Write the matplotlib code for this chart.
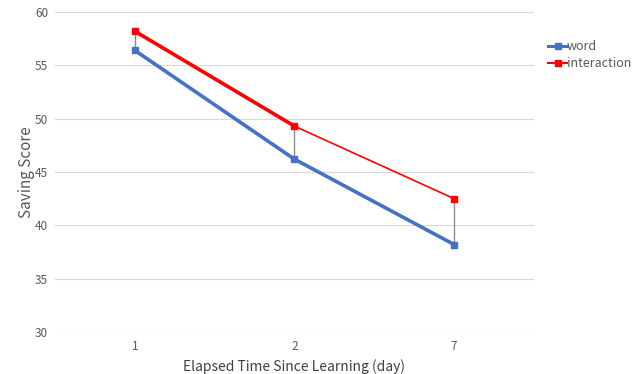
import matplotlib.pyplot as plt
from matplotlib.lines import Line2D

plt.rcParams['font.family'] = ['Noto Sans CJK SC', 'DejaVu Sans']

days = ['1', '2', '7']
word = [56.4, 46.2, 38.2]
interaction = [58.2, 49.3, 42.5]

blue = '#4472C4'
red = '#FF0000'
grey_txt = '#595959'

fig = plt.figure(figsize=(6.35, 3.74), dpi=100)
ax = fig.add_axes([55 / 635, 1 - 332 / 374, 479 / 635, 320 / 374])

x = list(range(1, len(days) + 1))

# gray drop lines between the two series
for xi, lo, hi in zip(x, word, interaction):
    ax.plot([xi, xi], [lo, hi], color='#8c8c8c', lw=1.0, zorder=2)

ax.plot(x, word, color=blue, lw=2.6, marker='s', ms=4.5, zorder=3)
# first interaction segment is drawn heavier than the second
ax.plot(x[:2], interaction[:2], color=red, lw=2.6, zorder=3)
ax.plot(x[1:], interaction[1:], color=red, lw=1.2, zorder=3)
ax.plot(x, interaction, color=red, lw=0, marker='s', ms=4.5, zorder=4)

ax.set_xlim(0.5, len(days) + 0.5)
ax.set_ylim(30, 60)
ax.set_yticks(range(30, 61, 5))
ax.set_xticks(x)
ax.set_xticklabels(days)
ax.grid(axis='y', color='#d9d9d9', lw=0.8)
ax.set_axisbelow(True)
for s in ax.spines.values():
    s.set_visible(False)
ax.tick_params(axis='y', length=0, labelsize=8.5, labelcolor=grey_txt, pad=5)
ax.tick_params(axis='x', length=0, labelsize=8.5, labelcolor=grey_txt, pad=6)

ax.set_xlabel('Elapsed Time Since Learning (day)', fontsize=10, color='#404040', labelpad=4)
ax.set_ylabel('Saving Score', fontsize=11, color=grey_txt, labelpad=0)

handles = [
    Line2D([], [], color=blue, lw=2.2, marker='s', ms=4),
    Line2D([], [], color=red, lw=1.5, marker='s', ms=4),
]
fig.legend(handles, ['word', 'interaction'], loc='upper left',
           bbox_to_anchor=(537 / 635, 1 - 29 / 374), frameon=False,
           fontsize=9, labelcolor=grey_txt, handlelength=1.5,
           handletextpad=0.0, labelspacing=0.3)

fig.savefig('out.png', dpi=100)
